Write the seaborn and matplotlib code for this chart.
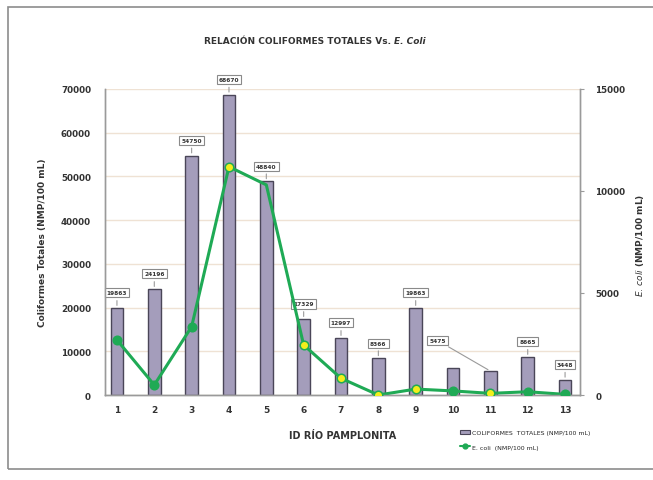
# Coliformes totales vs E. coli - Rio Pamplonita
import numpy as np
import pandas as pd
import matplotlib
matplotlib.use("Agg")
import matplotlib.pyplot as plt
import seaborn as sns
from matplotlib.patches import Patch
from matplotlib.lines import Line2D

# -----------------------------------------
# data
# -----------------------------------------
puntos = ["1", "2", "3", "4", "5", "6", "7", "8", "9", "10", "11", "12", "13"]
coliformes = [19863, 24196, 54750, 68670, 48840, 17329, 12997, 8366, 19863, 6131, 5475, 8665, 3448]
ecoli = [2700, 490, 3350, 11190, 10300, 2450, 820, 0, 290, 200, 80, 160, 30]
etiquetas = ["19863", "24196", "54750", "68670", "48840", "17329", "12997", "8366",
             "19863", "", "5475", "8665", "3448"]

df = pd.DataFrame({"punto": puntos, "coliformes": coliformes, "ecoli": ecoli})

# marker fill per point (yellow / green like the original)
verde = "#1faa55"
amarillo = "#f2ef1c"
relleno = [verde, verde, verde, amarillo, "none", amarillo, amarillo, amarillo,
           amarillo, verde, amarillo, verde, verde]

# -----------------------------------------
# figure
# -----------------------------------------
sns.set_style("white")
plt.rcParams["font.family"] = ["DejaVu Sans"]

fig = plt.figure(figsize=(6.53, 4.81), dpi=100)
ax = fig.add_axes([105 / 653, 1 - 396 / 481, 475 / 653, 306 / 481])

sns.barplot(data=df, x="punto", y="coliformes", ax=ax, color="#a49dbb",
            width=0.34, edgecolor="#4a4658", linewidth=1.0, saturation=1)

ax.set_ylim(0, 70000)
ax.set_yticks(range(0, 70001, 10000))
ax.yaxis.grid(True, color="#efe2d4", lw=1)
ax.set_axisbelow(True)

# data labels (boxed callouts)
for i, (v, txt) in enumerate(zip(coliformes, etiquetas)):
    if not txt:
        continue
    off = (0, 11)
    if i == 10:
        off = (-38, 22)
    ax.annotate(txt, xy=(i, v), xytext=off, textcoords="offset points",
                ha="center", va="center", fontsize=4.2, fontweight="bold", color="#333",
                bbox=dict(boxstyle="square,pad=0.35", fc="white", ec="#8a8a8a", lw=0.8),
                arrowprops=dict(arrowstyle="-", color="#9a9a9a", lw=0.8))

ax2 = ax.twinx()
x_pos = np.arange(len(puntos))
sns.lineplot(x=x_pos, y=ecoli, ax=ax2, color=verde, lw=2.2, legend=False)
for xi, yi, fc in zip(x_pos, ecoli, relleno):
    if fc == "none":
        continue
    ax2.scatter(xi, yi, s=38, facecolor=fc, edgecolor=verde, lw=1.1, zorder=5)
ax2.set_ylim(0, 15000)
ax2.set_yticks([0, 5000, 10000, 15000])
ax2.set_xlim(-0.32, 12.4)
ax2.set_ylabel("")

# spines and ticks
for a in (ax, ax2):
    a.spines["top"].set_visible(False)
    for s in ("left", "right", "bottom"):
        a.spines[s].set_color("#9a9a9a")
        a.spines[s].set_linewidth(1.0)
ax.tick_params(axis="y", length=0, pad=10, labelsize=6.3, labelcolor="#333")
ax.tick_params(axis="x", length=0, pad=7, labelsize=6.5, labelcolor="#333")
ax2.tick_params(axis="y", length=3, color="#9a9a9a", pad=8, labelsize=6.3, labelcolor="#333")
for t in ax.get_yticklabels() + ax.get_xticklabels() + ax2.get_yticklabels():
    t.set_fontweight("bold")

ax.set_xlabel("ID RÍO PAMPLONITA", fontsize=7, fontweight="bold", color="#333", labelpad=12)
ax.set_ylabel("Coliformes Totales (NMP/100 mL)", fontsize=6.5, fontweight="bold",
              color="#333", labelpad=10)
# right axis label placed directly (reads bottom to top like the original)
fig.text(640 / 653, 1 - 245 / 481, r"$\mathit{E.\,coli}$ (NMP/100 mL)", fontsize=6.5,
         fontweight="bold", color="#333", rotation=90, ha="center", va="center")

# title, half of it italic
fig.text(0.603, 1 - 42 / 481, "RELACIÓN COLIFORMES TOTALES Vs. ", ha="right", va="center",
         fontsize=6.5, fontweight="bold", color="#333")
fig.text(0.603, 1 - 42 / 481, "E. Coli", ha="left", va="center", fontsize=6.5,
         fontweight="bold", fontstyle="italic", color="#333")

# legend
handles = [Patch(facecolor="#a49dbb", edgecolor="#4a4658", lw=0.8),
           Line2D([0], [0], color=verde, lw=1.5, marker="o", ms=3.5, mfc=verde)]
labels = ["COLIFORMES  TOTALES (NMP/100 mL)", "E. coli  (NMP/100 mL)"]
fig.legend(handles, labels, loc="upper left", bbox_to_anchor=(458 / 653, 1 - 428 / 481),
           frameon=False, fontsize=4.5, handlelength=1.6, handletextpad=0.2,
           labelspacing=1.5, borderaxespad=0)

# outer frame
fig.patches.append(plt.Rectangle((8 / 653, 1 - 470 / 481), 1, 462 / 481, transform=fig.transFigure,
                                 fill=False, ec="#8c8c8c", lw=1.2))

fig.savefig("out.png", dpi=100)
